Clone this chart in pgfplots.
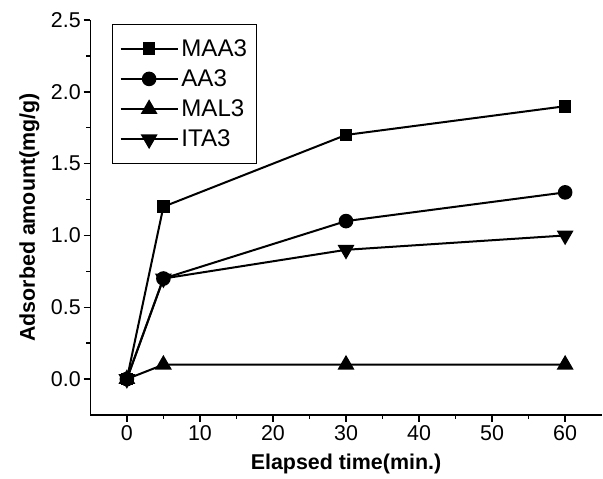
\documentclass[border=0pt]{standalone}
\usepackage{fontspec}
\setmainfont{Liberation Sans}
\usepackage{pgfplots}
\pgfplotsset{compat=1.18}
\begin{document}
\begin{tikzpicture}
\begin{axis}[
  scale only axis,
  width=382pt, height=295pt,
  xmin=-5, xmax=65, ymin=-0.25, ymax=2.5,
  axis x line=bottom, axis y line=left,
  axis line style={-, line width=1.2pt},
  x axis line style={-}, y axis line style={-},
  xtick={0,10,...,60}, ytick={0,0.5,...,2.5},
  minor x tick num=1, minor y tick num=1,
  tick align=outside,
  major tick length=5pt, minor tick length=3pt,
  tick style={black, line width=1pt},
  every tick label/.append style={font=\fontsize{16}{18}\selectfont},
  yticklabel style={inner xsep=2pt, /pgf/number format/.cd, fixed, fixed zerofill, precision=1},
  xticklabel style={inner ysep=2.5pt},
  /pgf/number format/assume math mode=true,
  xlabel={\bfseries Elapsed time(min.)},
  ylabel={\bfseries Adsorbed amount(mg/g)},
  label style={font=\fontsize{16}{18}\selectfont},
  xlabel style={yshift=-4pt},
  ylabel style={yshift=3pt},
  legend style={at={(0.043,0.99)}, anchor=north west, draw=black, line width=0.8pt,
    font=\fontsize{18}{21}\selectfont, row sep=4.5pt, inner xsep=5pt, inner ysep=9pt},
  legend cell align=left,
  legend image code/.code={
    \draw[mark repeat=2,mark phase=2,#1] plot coordinates {(0cm,0cm) (0.75cm,0cm) (1.5cm,0cm)};
  },
  every axis plot/.append style={black, line width=1.5pt},
]
\addplot[mark=square*, mark size=4pt] coordinates {(0,0) (5,1.2) (30,1.7) (60,1.9)};
\addlegendentry{MAA3}
\addplot[mark=*, mark size=4.7pt] coordinates {(0,0) (5,0.7) (30,1.1) (60,1.3)};
\addlegendentry{AA3}
\addplot[mark=triangle*, mark size=5.8pt] coordinates {(0,0) (5,0.1) (30,0.1) (60,0.1)};
\addlegendentry{MAL3}
\addplot[mark=triangle*, mark size=5.8pt, mark options={rotate=180}] coordinates {(0,0) (5,0.7) (30,0.9) (60,1.0)};
\addlegendentry{ITA3}
\end{axis}
\path ([xshift=-67.5pt,yshift=-45pt]current axis.south west) ([xshift=1pt,yshift=15pt]current axis.north east);
\end{tikzpicture}
\end{document}
